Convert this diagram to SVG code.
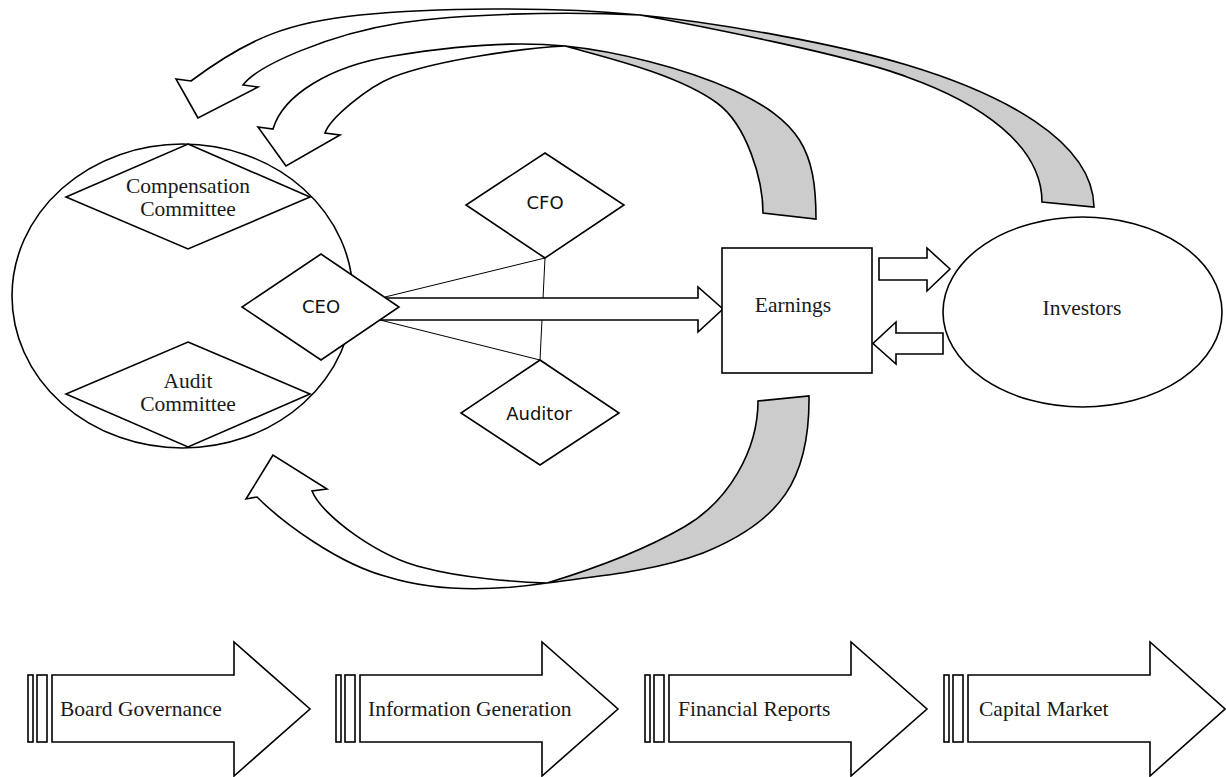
<svg xmlns="http://www.w3.org/2000/svg" width="1226" height="777" viewBox="0 0 1226 777">
<style>
.sh{fill:#fff;stroke:#000;stroke-width:1.6;stroke-linejoin:miter}
.gr{fill:#cccccc;stroke:#000;stroke-width:1.6}
.ln{fill:none;stroke:#000;stroke-width:1}
.serif{font-family:"Liberation Serif","Times New Roman",serif;font-size:21.5px;fill:#1a1a1a}
.sans{font-family:"DejaVu Sans",Verdana,sans-serif;font-size:18px;fill:#111}
.mid{text-anchor:middle}
</style>
<rect width="1226" height="777" fill="#fff"/>

<g id="board">
<ellipse class="sh" cx="182.5" cy="296" rx="170.5" ry="152"/>
</g>

<g id="connectors">
<!-- curved arrow A: investors to board (outer top) -->
<path class="gr" d="M 640,15 C 720,23 837,44 907,65 C 1000,93 1093,140 1094,207 L 1042,202 C 1042,145 980,103 907,77 C 850,55 690,24 640,15 Z"/>
<path class="sh" d="M 198,118 L 176,79 L 191,81 C 250,37 290,22 360,15 C 430,8 550,6 640,15 C 560,11 460,14 400,23 C 330,34 258,65 243,85 L 258,87 Z"/>
<!-- curved arrow B: earnings to board (inner top) -->
<path class="gr" d="M 565,46 C 615,51 683,67.5 733,90 C 800,121 816,150 816,219 L 763,213 C 763,180 747,125 717,103 C 677,73.5 600,56 565,46 Z"/>
<path class="sh" d="M 286,166 L 258,127 L 273,129 C 283,95 330,66 393,56 C 453,46 515,41 565,46 C 525,48 438,59.5 393,77 C 368,87 330,118 325,133 L 340,135 Z"/>
<!-- curved arrow C: earnings to board (bottom) -->
<path class="gr" d="M 547,583 C 590,577 653,572 703,553 C 780,522 810,480 809,396 L 758,401 C 758,450 729,501 684,527 C 639,553 590,570 547,583 Z"/>
<path class="sh" d="M 273,455 L 246,499 L 257,497 C 282,522 338,564 388,577 C 440,593 500,590 547,583 C 515,582 460,577.5 425,568 C 380,558 322,516 312,491 L 327,489 Z"/>
<!-- thin links -->
<line class="ln" x1="385" y1="297" x2="545" y2="258"/>
<line class="ln" x1="380" y1="320" x2="540" y2="360"/>
<line class="ln" x1="545" y1="258" x2="540" y2="360"/>
<!-- CEO to earnings block arrow -->
<path class="sh" d="M 385,298 L 698,298 L 698,287 L 723,309 L 698,332 L 698,320 L 380,320"/>
<!-- earnings <-> investors -->
<path class="sh" d="M 879,258 L 927,258 L 927,248 L 950,269 L 927,291 L 927,280 L 879,280 Z"/>
<path class="sh" d="M 943,333 L 896,333 L 896,322 L 873,343.5 L 896,364 L 896,354 L 943,354 Z"/>
</g>

<g id="compensation">
<polygon class="sh" points="188,144 310,197 188,249 66,197"/>
<text class="serif mid" x="188" y="193">Compensation</text>
<text class="serif mid" x="188" y="216">Committee</text>
</g>
<g id="audit">
<polygon class="sh" points="188,342 310,394 188,447 66,394"/>
<text class="serif mid" x="188" y="388">Audit</text>
<text class="serif mid" x="188" y="411">Committee</text>
</g>
<g id="ceo">
<polygon class="sh" points="321,254 399,307 321,360 242,307"/>
<text class="sans mid" x="321" y="313">CEO</text>
</g>
<g id="cfo">
<polygon class="sh" points="545,153 624,205 545,258 466,205"/>
<text class="sans mid" x="545" y="209">CFO</text>
</g>
<g id="auditor">
<polygon class="sh" points="540,360 619,413 540,465 461,413"/>
<text class="sans mid" x="539" y="420">Auditor</text>
</g>
<g id="earnings">
<rect class="sh" x="722" y="248" width="150" height="125"/>
<text class="serif mid" x="793" y="312">Earnings</text>
</g>
<g id="investors">
<ellipse class="sh" cx="1082.5" cy="312" rx="139.5" ry="95"/>
<text class="serif mid" x="1082" y="315">Investors</text>
</g>

<g id="stage1">
<rect class="sh" x="28" y="675" width="5" height="67"/>
<rect class="sh" x="37" y="675" width="10" height="67"/>
<polygon class="sh" points="52,675 234,675 234,642 310,709 234,776 234,742 52,742"/>
<text class="serif" x="60" y="716">Board Governance</text>
</g>
<g id="stage2">
<rect class="sh" x="336" y="675" width="5" height="67"/>
<rect class="sh" x="345" y="675" width="10" height="67"/>
<polygon class="sh" points="360,675 542,675 542,642 618,709 542,776 542,742 360,742"/>
<text class="serif" x="368" y="716">Information Generation</text>
</g>
<g id="stage3">
<rect class="sh" x="645" y="675" width="5" height="67"/>
<rect class="sh" x="654" y="675" width="10" height="67"/>
<polygon class="sh" points="669,675 851,675 851,642 927,709 851,776 851,742 669,742"/>
<text class="serif" x="678" y="716">Financial Reports</text>
</g>
<g id="stage4">
<rect class="sh" x="944" y="675" width="5" height="67"/>
<rect class="sh" x="953" y="675" width="10" height="67"/>
<polygon class="sh" points="968,675 1150,675 1150,642 1225,709 1150,776 1150,742 968,742"/>
<text class="serif" x="979" y="716">Capital Market</text>
</g>
</svg>
